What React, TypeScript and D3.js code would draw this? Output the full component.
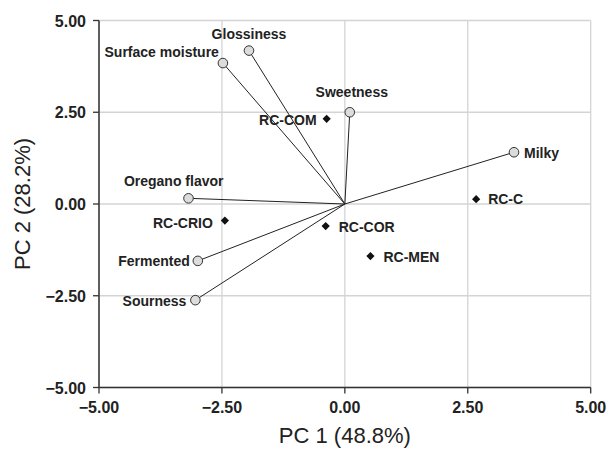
import React from "react";
import * as d3 from "d3";

const attributeNames = ["Glossiness", "Surface moisture", "Sweetness", "Milky", "Oregano flavor", "Fermented", "Sourness"];
const attributePC1 = [-1.95, -2.48, 0.1, 3.44, -3.18, -2.99, -3.04];
const attributePC2 = [4.18, 3.84, 2.5, 1.41, 0.155, -1.55, -2.62];

const sampleNames = ["RC-COM", "RC-C", "RC-CRIO", "RC-COR", "RC-MEN"];
const samplePC1 = [-0.37, 2.67, -2.44, -0.39, 0.52];
const samplePC2 = [2.32, 0.13, -0.45, -0.6, -1.42];

const tickValues = [-5, -2.5, 0, 2.5, 5];
const xTitle = "PC 1 (48.8%)";
const yTitle = "PC 2 (28.2%)";

// label placement: [dx, dy, anchor]
const attrLabelPlacement: Record<string, [number, number, string]> = {
  "Glossiness": [0, -12, "middle"],
  "Surface moisture": [-4, -6, "end"],
  "Sweetness": [2, -15, "middle"],
  "Milky": [10, 6, "start"],
  "Oregano flavor": [35, -12, "end"],
  "Fermented": [-8, 5, "end"],
  "Sourness": [-9, 6, "end"],
};
const sampleLabelPlacement: Record<string, [number, number, string]> = {
  "RC-COM": [-10, 6, "end"],
  "RC-C": [12, 5, "start"],
  "RC-CRIO": [-12, 7, "end"],
  "RC-COR": [13, 6, "start"],
  "RC-MEN": [13, 6, "start"],
};

const W = 609;
const H = 449;
const FONT = "'Liberation Sans', Arial, Helvetica, sans-serif";

export default function App() {
  const x = d3.scaleLinear().domain([-5, 5]).range([99, 590.7]);
  const y = d3.scaleLinear().domain([-5, 5]).range([387.5, 20.5]);
  const fmt = (v: number) => (v < 0 ? "\u2212" : "") + d3.format(".2f")(Math.abs(v));
  const diamond = d3.symbol().type(d3.symbolSquare).size(34)();

  return (
    <svg width={W} height={H} style={{ position: "absolute", left: 0, top: 0, background: "#fff" }} fontFamily={FONT}>
      {/* grid */}
      {tickValues.map((t) => (
        <line key={"gx" + t} x1={x(t)} x2={x(t)} y1={y(5)} y2={y(-5)} stroke="#d4d4d4" strokeWidth={1.3} />
      ))}
      {tickValues.map((t) => (
        <line key={"gy" + t} x1={x(-5)} x2={x(5)} y1={y(t)} y2={y(t)} stroke="#d4d4d4" strokeWidth={1.3} />
      ))}
      {/* axes */}
      <line x1={x(-5)} x2={x(-5)} y1={y(5)} y2={y(-5)} stroke="#333" strokeWidth={1.5} />
      <line x1={x(-5)} x2={x(5)} y1={y(-5)} y2={y(-5)} stroke="#333" strokeWidth={1.5} />
      {tickValues.map((t) => (
        <g key={"ty" + t}>
          <line x1={x(-5) - 6} x2={x(-5)} y1={y(t)} y2={y(t)} stroke="#333" strokeWidth={1.3} />
          <text x={x(-5) - 13} y={y(t) + 6} textAnchor="end" fontSize={16} fontWeight="bold" fill="#222">{fmt(t)}</text>
        </g>
      ))}
      {tickValues.map((t) => (
        <g key={"tx" + t}>
          <line x1={x(t)} x2={x(t)} y1={y(-5)} y2={y(-5) + 6} stroke="#333" strokeWidth={1.3} />
          <text x={x(t)} y={y(-5) + 25} textAnchor="middle" fontSize={16} fontWeight="bold" fill="#222">{fmt(t)}</text>
        </g>
      ))}
      {/* titles */}
      <text x={(x(-5) + x(5)) / 2} y={443} textAnchor="middle" fontSize={22} fill="#222">{xTitle}</text>
      <text transform={`translate(30,${(y(-5) + y(5)) / 2}) rotate(-90)`} textAnchor="middle" fontSize={22} fill="#222">{yTitle}</text>
      {/* vectors */}
      {attributeNames.map((n, i) => (
        <line key={"v" + n} x1={x(0)} y1={y(0)} x2={x(attributePC1[i])} y2={y(attributePC2[i])} stroke="#222" strokeWidth={1} />
      ))}
      {attributeNames.map((n, i) => {
        const [dx, dy, anchor] = attrLabelPlacement[n];
        const cx = x(attributePC1[i]);
        const cy = y(attributePC2[i]);
        return (
          <g key={"a" + n}>
            <circle cx={cx} cy={cy} r={4.8} fill="#dcdcdc" stroke="#333" strokeWidth={1} />
            <text x={cx + dx} y={cy + dy} textAnchor={anchor as any} fontSize={14} fontWeight="bold" fill="#222">{n}</text>
          </g>
        );
      })}
      {sampleNames.map((n, i) => {
        const [dx, dy, anchor] = sampleLabelPlacement[n];
        const cx = x(samplePC1[i]);
        const cy = y(samplePC2[i]);
        return (
          <g key={"s" + n}>
            <path d={diamond as string} transform={`translate(${cx},${cy}) rotate(45)`} fill="#111" />
            <text x={cx + dx} y={cy + dy} textAnchor={anchor as any} fontSize={14} fontWeight="bold" fill="#222">{n}</text>
          </g>
        );
      })}
    </svg>
  );
}
